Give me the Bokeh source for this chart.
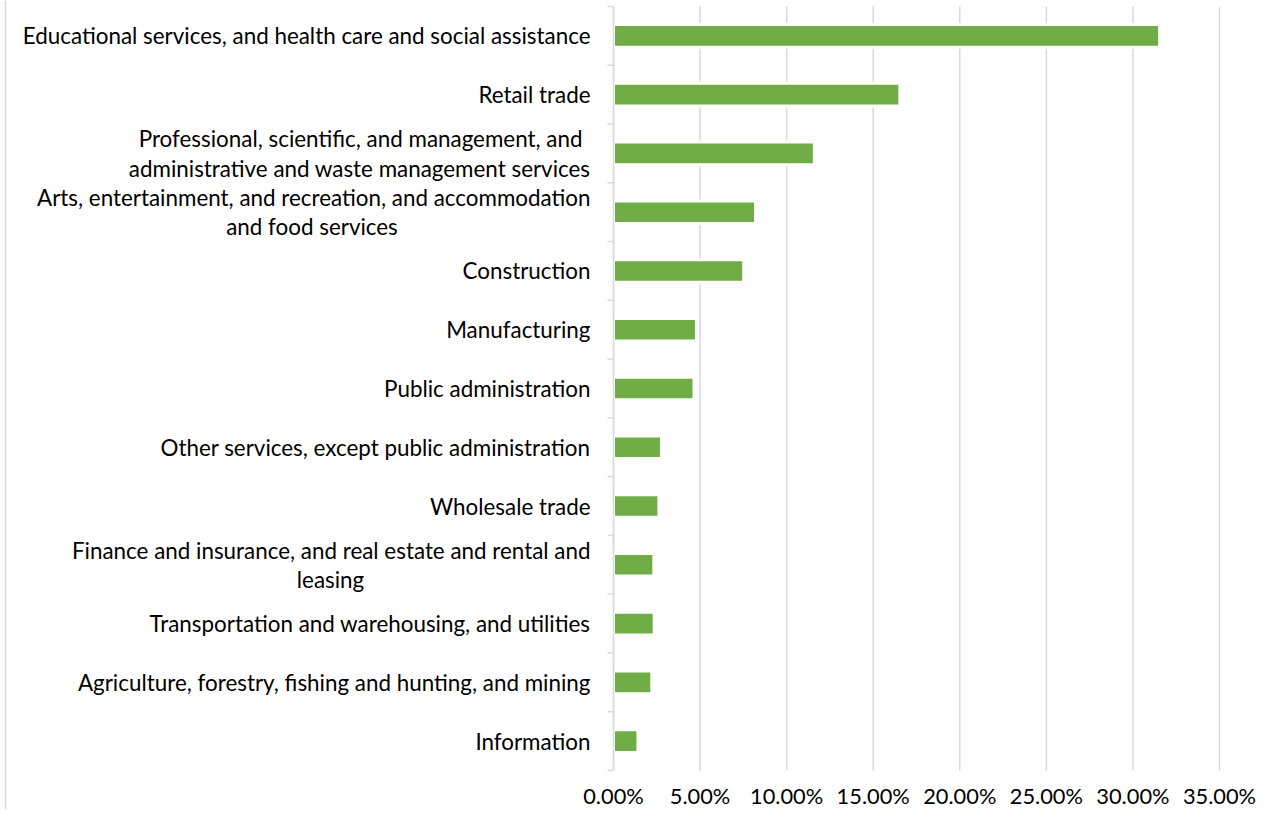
from bokeh.plotting import figure
from bokeh.models import Range1d, ColumnDataSource, Span
from bokeh.core.properties import value
from bokeh.embed import file_html
from bokeh.resources import INLINE

# ---------------- data ----------------
categories = [
    "Educational services, and health care and social assistance",
    "Retail trade",
    "Professional, scientific, and management, and \nadministrative and waste management services",
    "Arts, entertainment, and recreation, and accommodation\nand food services",
    "Construction",
    "Manufacturing",
    "Public administration",
    "Other services, except public administration",
    "Wholesale trade",
    "Finance and insurance, and real estate and rental and\nleasing",
    "Transportation and warehousing, and utilities",
    "Agriculture, forestry, fishing and hunting, and mining",
    "Information",
]
shares = [0.3154, 0.1654, 0.1160, 0.0820, 0.0752, 0.0479, 0.0465,
          0.0277, 0.0262, 0.0233, 0.0235, 0.0221, 0.0141]
x_ticks = [0.0, 0.05, 0.10, 0.15, 0.20, 0.25, 0.30, 0.35]
x_tick_labels = [f"{t * 100:.2f}%" for t in x_ticks]

# ---------------- style / layout ----------------
FONT = "Lato"
CAT_FSIZE = "22.4px"
TICK_FSIZE = "21.8px"
GREEN = "#70AD47"
GRID = "#d9d9d9"
W, H = 1259, 809
TOP_PX, BOTTOM_PX = 6, 770            # screen y of first / last category boundary
AXIS_PX, END_PX = 613, 1219           # screen x of 0 % and of the range end
XMAX = x_ticks[-1]
ppu = (END_PX - AXIS_PX) / XMAX       # px per data unit along x
GAP = 23                              # px between axis and label right edge
LINE_H = 29.5                         # px line spacing in multi-line labels
TICK_LEN = 6
TICKLABEL_DY = 25                     # px below the plot bottom for x labels
block_w = {3: 557, 9: 520}            # px width of longest line, to centre the short line
first_line_extra = {2: 8}             # trailing-space shift of first line

n = len(categories)
ys = [i + 0.5 for i in range(n)]
row_px = (BOTTOM_PX - TOP_PX) / n

p = figure(width=W, height=H,
           min_border_left=0, min_border_right=0, min_border_top=0, min_border_bottom=0,
           x_range=Range1d(-AXIS_PX / ppu, (W - AXIS_PX) / ppu),
           y_range=Range1d(n + (H - BOTTOM_PX) / row_px, -TOP_PX / row_px),
           output_backend="svg", toolbar_location=None, tools="")
p.outline_line_color = None
p.background_fill_color = "white"
p.border_fill_color = "white"
p.axis.visible = False
p.grid.visible = False

# vertical gridlines (value axis)
p.segment(x0=x_ticks, x1=x_ticks, y0=[0] * len(x_ticks), y1=[n] * len(x_ticks),
          line_color=GRID, line_width=1.5)

# bars
src = ColumnDataSource(dict(y=ys, right=shares))
p.hbar(y="y", left=0, right="right", height=0.385, source=src,
       fill_color=GREEN, line_color="white", line_width=3)

# category axis: line at 0 with tick marks at category boundaries
bounds = list(range(n + 1))
p.segment(x0=[0], x1=[0], y0=[0], y1=[n], line_color=GRID, line_width=1.5)
p.segment(x0=[-TICK_LEN / ppu] * len(bounds), x1=[0] * len(bounds), y0=bounds, y1=bounds,
          line_color=GRID, line_width=1.5)

# outer chart border (left edge)
p.add_layout(Span(location=(5 - AXIS_PX) / ppu, dimension="height", line_color=GRID, line_width=1.5))

# value-axis tick labels
p.text(x=x_ticks, y=[n + TICKLABEL_DY / row_px] * len(x_ticks), text=x_tick_labels,
       text_align="center", text_baseline="middle",
       text_font=value(FONT), text_font_size=value(TICK_FSIZE), text_color="black")

# category labels (multi-line: lines centred in block, block right-aligned)
lt, lx, ly, lal = [], [], [], []
for i, cat in enumerate(categories):
    lines = cat.split("\n")
    k = len(lines)
    longest = max(range(k), key=lambda j: len(lines[j].strip()))
    for j, line in enumerate(lines):
        lt.append(line.rstrip())
        ly.append(ys[i] + (j - (k - 1) / 2) * LINE_H / row_px)
        if k == 1 or i not in block_w or j == longest:
            lal.append("right")
            extra = first_line_extra.get(i, 0) if (j == 0 and k > 1) else 0
            lx.append(-(GAP + extra) / ppu)
        else:
            lal.append("center")
            lx.append(-(GAP + block_w[i] / 2) / ppu)

lsrc = ColumnDataSource(dict(x=lx, y=ly, text=lt, al=lal))
p.text(x="x", y="y", text="text", text_align="al", text_baseline="middle", source=lsrc,
       text_font=value(FONT), text_font_size=value(CAT_FSIZE), text_color="black")

open("out.html", "w").write(file_html(p, INLINE))
